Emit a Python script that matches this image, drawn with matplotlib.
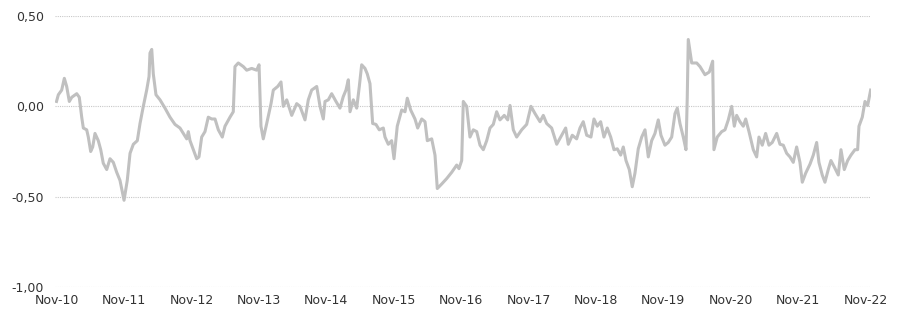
import matplotlib
matplotlib.use("Agg")
import matplotlib.pyplot as plt
import numpy as np

# time as decimal year
t = [2010.83, 2010.857, 2010.907, 2010.946, 2010.981, 2011.020, 2011.056, 2011.130,
     2011.168, 2011.204, 2011.228, 2011.278, 2011.302, 2011.337, 2011.367, 2011.401,
     2011.450, 2011.486, 2011.524, 2011.575, 2011.624, 2011.673, 2011.723, 2011.772,
     2011.832, 2011.880, 2011.921, 2011.970, 2012.029, 2012.069, 2012.118, 2012.168,
     2012.203, 2012.217, 2012.243, 2012.266, 2012.306, 2012.366, 2012.440, 2012.514,
     2012.588, 2012.662, 2012.762, 2012.786, 2012.811, 2012.860, 2012.910, 2012.944,
     2012.984, 2013.033, 2013.082, 2013.133, 2013.182, 2013.231, 2013.290, 2013.330,
     2013.404, 2013.453, 2013.478, 2013.527, 2013.602, 2013.652, 2013.726, 2013.800,
     2013.835, 2013.864, 2013.898, 2013.949, 2014.013, 2014.047, 2014.112, 2014.161,
     2014.195, 2014.246, 2014.320, 2014.394, 2014.443, 2014.517, 2014.566, 2014.616,
     2014.691, 2014.740, 2014.789, 2014.814, 2014.863, 2014.913, 2014.977, 2015.036,
     2015.085, 2015.125, 2015.160, 2015.185, 2015.234, 2015.284, 2015.323, 2015.358,
     2015.407, 2015.441, 2015.481, 2015.521, 2015.570, 2015.619, 2015.679, 2015.704,
     2015.753, 2015.803, 2015.838, 2015.886, 2015.952, 2016.001, 2016.035, 2016.085,
     2016.149, 2016.189, 2016.249, 2016.298, 2016.332, 2016.397, 2016.446, 2016.480,
     2016.545, 2016.619, 2016.694, 2016.768, 2016.802, 2016.842, 2016.866, 2016.916,
     2016.965, 2017.014, 2017.065, 2017.114, 2017.163, 2017.213, 2017.262, 2017.311,
     2017.361, 2017.410, 2017.474, 2017.525, 2017.559, 2017.608, 2017.658, 2017.732,
     2017.806, 2017.870, 2017.930, 2018.004, 2018.053, 2018.103, 2018.177, 2018.252,
     2018.326, 2018.385, 2018.424, 2018.483, 2018.548, 2018.597, 2018.646, 2018.697,
     2018.760, 2018.805, 2018.854, 2018.904, 2018.953, 2019.002, 2019.053, 2019.102,
     2019.151, 2019.201, 2019.240, 2019.280, 2019.329, 2019.373, 2019.413, 2019.462,
     2019.513, 2019.562, 2019.611, 2019.661, 2019.710, 2019.759, 2019.799, 2019.858,
     2019.907, 2019.958, 2020.007, 2020.041, 2020.081, 2020.130, 2020.170, 2020.189,
     2020.204, 2020.255, 2020.329, 2020.378, 2020.452, 2020.516, 2020.566, 2020.585,
     2020.634, 2020.700, 2020.749, 2020.798, 2020.848, 2020.887, 2020.922, 2020.971,
     2021.020, 2021.056, 2021.105, 2021.169, 2021.219, 2021.253, 2021.302, 2021.352,
     2021.401, 2021.450, 2021.516, 2021.565, 2021.614, 2021.664, 2021.713, 2021.762,
     2021.812, 2021.861, 2021.896, 2021.946, 2022.010, 2022.059, 2022.109, 2022.143,
     2022.192, 2022.232, 2022.281, 2022.321, 2022.370, 2022.430, 2022.470, 2022.519,
     2022.569, 2022.618, 2022.677, 2022.717, 2022.737, 2022.786, 2022.826, 2022.866,
     2022.910]

values = [0.027, 0.064, 0.09, 0.155, 0.11, 0.027, 0.05, 0.07,
          0.05, -0.06, -0.12, -0.13, -0.17, -0.25, -0.225, -0.15,
          -0.19, -0.24, -0.315, -0.35, -0.29, -0.31, -0.365, -0.41,
          -0.52, -0.41, -0.26, -0.21, -0.19, -0.095, 0.0, 0.09,
          0.165, 0.295, 0.315, 0.18, 0.064, 0.036, -0.01, -0.06,
          -0.10, -0.12, -0.18, -0.14, -0.19, -0.24, -0.29, -0.28,
          -0.17, -0.14, -0.06, -0.07, -0.07, -0.13, -0.17, -0.11,
          -0.06, -0.03, 0.22, 0.24, 0.22, 0.20, 0.21, 0.20,
          0.23, -0.11, -0.18, -0.095, 0.015, 0.09, 0.11, 0.135,
          0.0, 0.036, -0.05, 0.015, 0.0, -0.075, 0.036, 0.09,
          0.11, 0.0, -0.07, 0.027, 0.036, 0.07, 0.027, -0.01,
          0.054, 0.09, 0.147, -0.03, 0.036, -0.01, 0.11, 0.23,
          0.21, 0.18, 0.126, -0.095, -0.10, -0.13, -0.12, -0.17,
          -0.21, -0.19, -0.29, -0.11, -0.02, -0.03, 0.045, -0.02,
          -0.07, -0.12, -0.07, -0.085, -0.19, -0.18, -0.27, -0.455,
          -0.43, -0.40, -0.365, -0.325, -0.345, -0.30, 0.027, 0.0,
          -0.17, -0.13, -0.14, -0.215, -0.24, -0.19, -0.12, -0.10,
          -0.03, -0.075, -0.05, -0.075, 0.005, -0.13, -0.17, -0.13,
          -0.10, 0.0, -0.04, -0.085, -0.05, -0.095, -0.12, -0.21,
          -0.16, -0.12, -0.21, -0.16, -0.18, -0.12, -0.085, -0.16,
          -0.17, -0.07, -0.11, -0.085, -0.17, -0.12, -0.17, -0.24,
          -0.235, -0.27, -0.225, -0.30, -0.35, -0.445, -0.37, -0.235,
          -0.17, -0.13, -0.28, -0.19, -0.15, -0.075, -0.16, -0.215,
          -0.20, -0.17, -0.04, -0.01, -0.095, -0.17, -0.24, 0.05,
          0.37, 0.24, 0.24, 0.22, 0.175, 0.19, 0.25, -0.24,
          -0.17, -0.14, -0.13, -0.075, 0.0, -0.11, -0.05, -0.085,
          -0.11, -0.07, -0.14, -0.24, -0.28, -0.17, -0.215, -0.15,
          -0.215, -0.20, -0.15, -0.21, -0.215, -0.26, -0.28, -0.31,
          -0.225, -0.31, -0.42, -0.37, -0.32, -0.27, -0.20, -0.31,
          -0.38, -0.42, -0.35, -0.30, -0.335, -0.38, -0.24, -0.35,
          -0.30, -0.27, -0.24, -0.24, -0.11, -0.06, 0.027, 0.005,
          0.09]

tick_years = list(range(10, 23))
tick_labels = ["Nov-%02d" % y for y in tick_years]
y_ticks = [-1.0, -0.5, 0.0, 0.5]

fig = plt.figure(figsize=(9.05, 3.12), dpi=100)
ax = fig.add_axes([0.0608, 0.0801, 0.9016, 0.8686])

ax.plot(t, values, color="#c0c0c0", lw=2.2, solid_joinstyle="round")

ax.set_xlim(2010.808, 2022.915)
ax.set_ylim(-1.0, 0.5)
ax.set_xticks([2000 + y + 0.833 for y in tick_years])
ax.set_xticklabels(tick_labels)
ax.set_yticks(y_ticks)
ax.set_yticklabels([("%.2f" % v).replace(".", ",") for v in y_ticks])

for v in y_ticks:
    ax.axhline(v, color="#c8c8c8", lw=0.8, ls=(0, (1, 1)), zorder=0)

for s in ax.spines.values():
    s.set_visible(False)
ax.tick_params(length=0, labelsize=9, colors="#333333")
ax.tick_params(axis="x", pad=5)
ax.tick_params(axis="y", pad=8)

fig.savefig("out.png", dpi=100)
